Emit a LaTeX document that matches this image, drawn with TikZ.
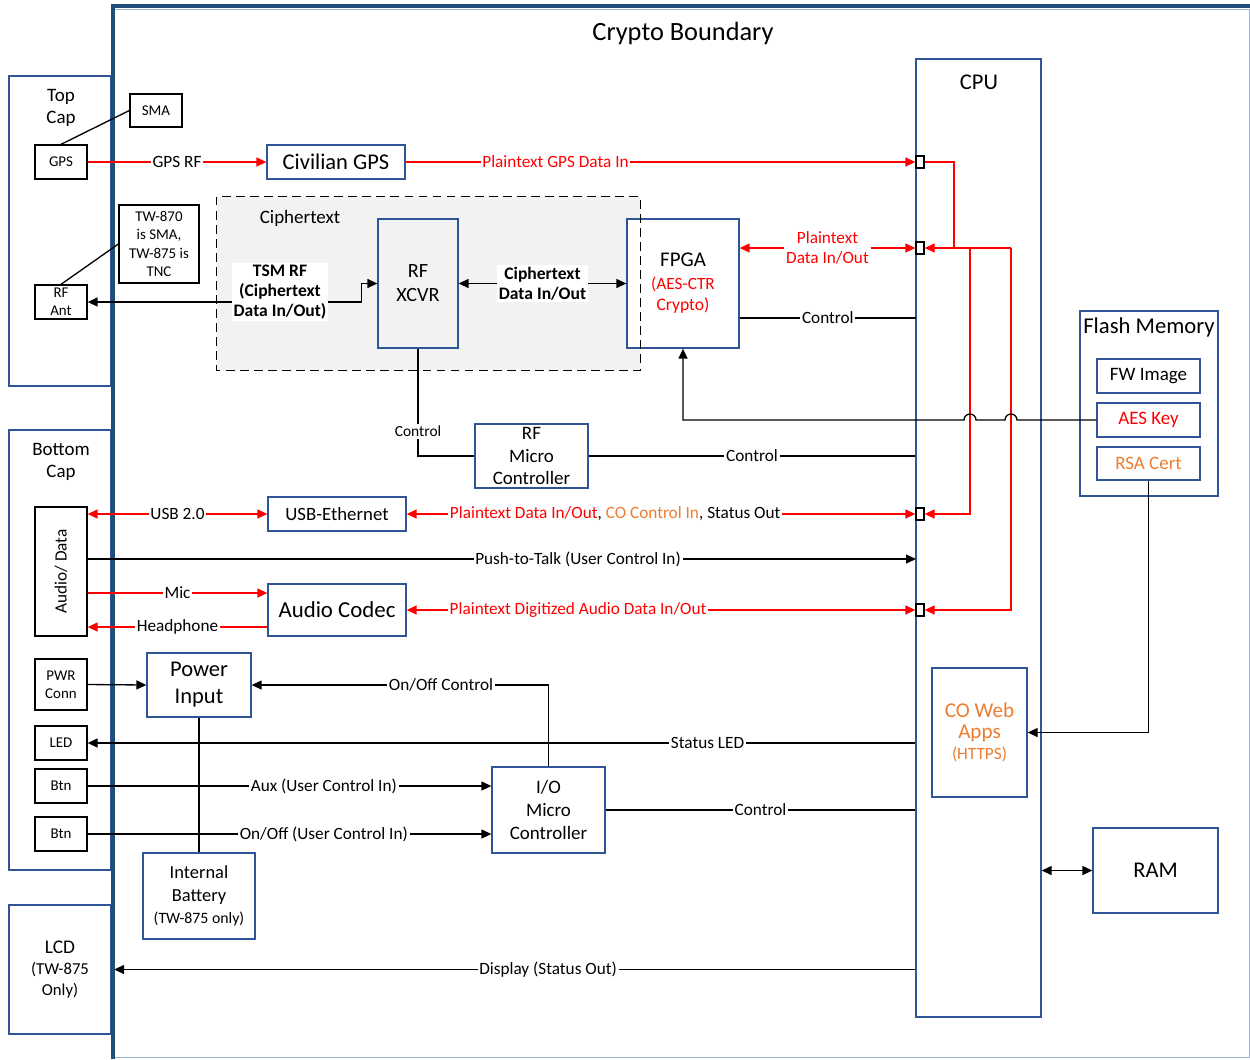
\documentclass[tikz,border=0pt]{standalone}
\usepackage{fontspec}
\setmainfont{Carlito}
\usetikzlibrary{arrows.meta}
\definecolor{boxblue}{RGB}{47,85,151}
\definecolor{edgeblue}{RGB}{31,78,121}
\definecolor{coorange}{RGB}{237,125,49}
\definecolor{cipherbg}{RGB}{242,242,242}
\tikzset{
	bluebox/.style={draw=boxblue,line width=0.75pt,fill=white,align=center,inner sep=1pt},
	blackbox/.style={draw=black,line width=0.75pt,fill=white,align=center,inner sep=1pt,font=\fontsize{8.5}{10.5}\selectfont},
	portbox/.style={draw=black,line width=0.75pt,fill=white,minimum width=0.16cm,minimum height=0.24cm,inner sep=0pt},
	sig/.style={line width=0.75pt},
	redsig/.style={sig,draw=red},
	lbl/.style={fill=white,inner sep=1pt,align=center,font=\fontsize{9.8}{11.3}\selectfont},
	boldlbl/.style={lbl,font=\fontsize{10}{11.6}\selectfont\bfseries},
	bigtxt/.style={font=\fontsize{12.8}{15.3}\selectfont},
	midtxt/.style={font=\fontsize{10.8}{13}\selectfont},
	>={Triangle[length=2mm,width=1.8mm]}
}
\begin{document}
\begin{tikzpicture}[x=0.02cm,y=-0.02cm]
	\useasboundingbox (0,0) rectangle (1250,1059);
	% outside: top cap, bottom cap, lcd
	\node[bluebox,minimum width=2.04cm,minimum height=6.2cm](topcap) at (60,231) {};
	\node[midtxt,align=center](topcaplbl) at (61,108) {Top\\Cap};
	\node[bluebox,minimum width=2.04cm,minimum height=8.8cm](botcap) at (60,650) {};
	\node[midtxt,align=center](botcaplbl) at (61,462) {Bottom\\Cap};
	\node[bluebox,minimum width=2.04cm,minimum height=2.58cm,font=\fontsize{9.5}{12}\selectfont](lcd) at (60,969.5) {{\fontsize{11}{12}\selectfont LCD}\\(TW-875\\Only)};
	\node[blackbox,minimum width=1.04cm,minimum height=0.66cm](sma) at (156,110.5) {SMA};
	\node[blackbox,minimum width=1.04cm,minimum height=0.68cm](gps) at (61,162) {GPS};
	\node[blackbox,minimum width=1.04cm,minimum height=0.68cm](rfant) at (61,302) {RF\\Ant};
	\node[blackbox,minimum width=1.6cm,minimum height=1.56cm](tw) at (159,244) {TW-870\\is SMA,\\TW-875 is\\TNC};
	\node[blackbox,minimum width=1.04cm,minimum height=2.58cm](audio) at (61,571.5) {};
	\node[rotate=90,font=\fontsize{9.8}{11}\selectfont](audiolbl) at (61,571.5) {Audio/ Data};
	\node[blackbox,minimum width=1.04cm,minimum height=1.02cm](pwrconn) at (61,684.5) {PWR\\Conn};
	\node[blackbox,minimum width=1.04cm,minimum height=0.68cm](led) at (61,743) {LED};
	\node[blackbox,minimum width=1.04cm,minimum height=0.68cm](btn1) at (61,786) {Btn};
	\node[blackbox,minimum width=1.04cm,minimum height=0.68cm](btn2) at (61,834) {Btn};
	% crypto boundary
	\draw[boxblue!45,line width=0.5pt] (113,9) rectangle (1249,1057);
	\draw[edgeblue,line width=2.3pt] (113,1059) -- (113,6) -- (1250,6);
	\node[font=\fontsize{15}{18}\selectfont](title) at (683,33) {Crypto Boundary};
	% ciphertext area
	\node[fill=cipherbg,minimum width=8.46cm,minimum height=3.46cm,inner sep=0pt](cipher) at (428.5,283.5) {};
	\node[midtxt](cipherlbl) at (300,218) {Ciphertext};
	\node[bluebox,fill=cipherbg,minimum width=1.6cm,minimum height=2.58cm,font=\fontsize{11.5}{13.6}\selectfont](xcvr) at (418,283.5) {RF\\XCVR};
	\node[bluebox,minimum width=2.24cm,minimum height=2.58cm](fpga) at (683,283.5) {{\fontsize{11.9}{13}\selectfont FPGA}\\[1pt]\color{red}\fontsize{9.8}{11.3}\selectfont (AES-CTR\\\color{red}Crypto)};
	\draw[line width=0.75pt,dashed,dash pattern=on 5pt off 3pt] (cipher.north west) rectangle (cipher.south east);
	% inside blocks
	\node[bluebox,bigtxt,minimum width=2.76cm,minimum height=0.68cm](civgps) at (336,162) {Civilian GPS};
	\node[bluebox,midtxt,minimum width=2.26cm,minimum height=1.28cm](rfmc) at (531.5,456) {RF\\Micro\\Controller};
	\node[bluebox,font=\fontsize{10.7}{13}\selectfont,minimum width=2.76cm,minimum height=0.68cm](usbeth) at (337,514) {USB-Ethernet};
	\node[bluebox,font=\fontsize{13}{15}\selectfont,minimum width=2.76cm,minimum height=1.04cm](codec) at (337,610) {Audio Codec};
	\node[bluebox,bigtxt,minimum width=2.08cm,minimum height=1.28cm](pwr) at (199,685) {Power\\Input};
	\node[bluebox,midtxt,minimum width=2.26cm,minimum height=1.72cm](iomc) at (548.5,810) {I/O\\Micro\\Controller};
	\node[bluebox,minimum width=2.24cm,minimum height=1.72cm,font=\fontsize{10.5}{13}\selectfont](batt) at (199,896) {Internal\\Battery\\{\fontsize{9}{11}\selectfont(TW-875 only)}};
	% cpu with ports
	\node[bluebox,minimum width=2.5cm,minimum height=19.16cm](cpu) at (978.5,538) {};
	\node[bigtxt](cpulbl) at (979,82) {CPU};
	\node[bluebox,minimum width=1.9cm,minimum height=2.58cm,text=coorange](coweb) at (979.5,732.5) {{\fontsize{12}{12}\selectfont CO Web}\\{\fontsize{12}{12}\selectfont Apps}\\{\fontsize{9.8}{11}\selectfont(HTTPS)}};
	\node[portbox](p1) at (920,162) {};
	\node[portbox](p2) at (920,248) {};
	\node[portbox](p3) at (920,514) {};
	\node[portbox](p4) at (920,610) {};
	% memories
	\node[bluebox,minimum width=2.76cm,minimum height=3.7cm](flash) at (1149,403.5) {};
	\node[font=\fontsize{12.9}{15}\selectfont](flashlbl) at (1149,327) {Flash Memory};
	\node[bluebox,midtxt,minimum width=2.06cm,minimum height=0.68cm](fw) at (1148.5,376) {FW Image};
	\node[bluebox,midtxt,text=red,minimum width=2.06cm,minimum height=0.68cm](aes) at (1148.5,420) {AES Key};
	\node[bluebox,midtxt,text=coorange,minimum width=2.06cm,minimum height=0.66cm](rsa) at (1148.5,463.5) {RSA Cert};
	\node[bluebox,bigtxt,minimum width=2.5cm,minimum height=1.7cm](ram) at (1155.5,870.5) {RAM};
	% helper points
	\coordinate(fctl) at (916,318);
	\coordinate(ptt) at (916,559);
	\coordinate(mic) at ([yshift=0.34cm]codec.west);
	\coordinate(hp) at ([yshift=-0.34cm]codec.west);
	\coordinate(j1) at (954,248);
	\coordinate(j2) at (970,248);
	\coordinate(j3) at (1011,248);
	% antennas
	\draw[sig] (gps.north)--(sma.west);
	\draw[sig] (rfant.north)--(tw.west);
	\draw[redsig,->] (gps.east)--(civgps.west) node[lbl,midway]{GPS RF};
	\draw[redsig,->] (civgps.east)--(p1.west) node[lbl,pos=0.294,text=red]{Plaintext GPS Data In};
	\draw[sig,<->] (rfant.east)--++(274,0) |- (xcvr.west);
	\node[boldlbl](tsmlbl) at (280,292) {TSM RF\\(Ciphertext\\Data In/Out)};
	\draw[sig,<->] (xcvr.east)--(fpga.west) node[boldlbl,midway]{Ciphertext\\Data In/Out};
	\draw[redsig,<->] (fpga.east |- p2)--(p2.west) node[lbl,midway,text=red]{Plaintext\\Data In/Out};
	\draw[sig] (fpga.east |- fctl)--(fctl) node[lbl,midway]{Control};
	\draw[sig] (xcvr.south) |- (rfmc.west) node[lbl,pos=0.385,font=\fontsize{8.8}{10}\selectfont]{Control};
	\draw[sig] (rfmc.east)--(cpu.west |- rfmc.east) node[lbl,midway]{Control};
	% plaintext fan-out inside the cpu
	\draw[redsig,->] (p1.east) -| (j1)--(p2.east);
	\draw[redsig] (j1)--(j3);
	\draw[redsig,->] (j2) |- (p3.east);
	\draw[redsig,->] (j3) |- (p4.east);
	% key to fpga, hopping over the red lines
	\draw[sig,->] (aes.west)--(1017,420) arc[start angle=0,end angle=180,radius=0.12cm]
		--(976,420) arc[start angle=0,end angle=180,radius=0.12cm]
		--(fpga.south |- aes.west)--(fpga.south);
	\draw[sig,->] (rsa.south) |- (coweb.east);
	\draw[sig,<->] (cpu.east |- ram.west)--(ram.west);
	% bottom cap signals
	\draw[redsig,<->] (audio.east |- usbeth.west)--(usbeth.west) node[lbl,midway]{USB 2.0};
	\draw[redsig,<->] (usbeth.east)--(p3.west) node[lbl,pos=0.41]{{\color{red}Plaintext Data In/Out}, {\color{coorange}CO Control In}, Status Out};
	\draw[sig,->] (audio.east |- ptt)--(ptt) node[lbl,pos=0.592]{Push-to-Talk (User Control In)};
	\draw[redsig,->] (audio.east |- mic)--(mic) node[lbl,midway]{Mic};
	\draw[redsig,->] (hp)--(audio.east |- hp) node[lbl,midway]{Headphone};
	\draw[redsig,<->] (codec.east)--(p4.west) node[lbl,pos=0.337,text=red]{Plaintext Digitized Audio Data In/Out};
	\draw[sig,->] (pwrconn.east)--(pwr.west);
	\draw[sig] (pwr.south)--(batt.north);
	\draw[sig,->] (iomc.north) |- (pwr.east) node[lbl,pos=0.681]{On/Off Control};
	\draw[sig,->] (cpu.west |- led.east)--(led.east) node[lbl,pos=0.251]{Status LED};
	\draw[sig,->] (btn1.east)--(iomc.west |- btn1.east) node[lbl,pos=0.585]{Aux (User Control In)};
	\draw[sig,->] (btn2.east)--(iomc.west |- btn2.east) node[lbl,pos=0.585]{On/Off (User Control In)};
	\draw[sig] (iomc.east)--(cpu.west |- iomc.east) node[lbl,midway]{Control};
	\draw[sig,->,shorten >=0.05cm] (cpu.west |- lcd.east)--(lcd.east) node[lbl,pos=0.457]{Display (Status Out)};
\end{tikzpicture}
\end{document}
